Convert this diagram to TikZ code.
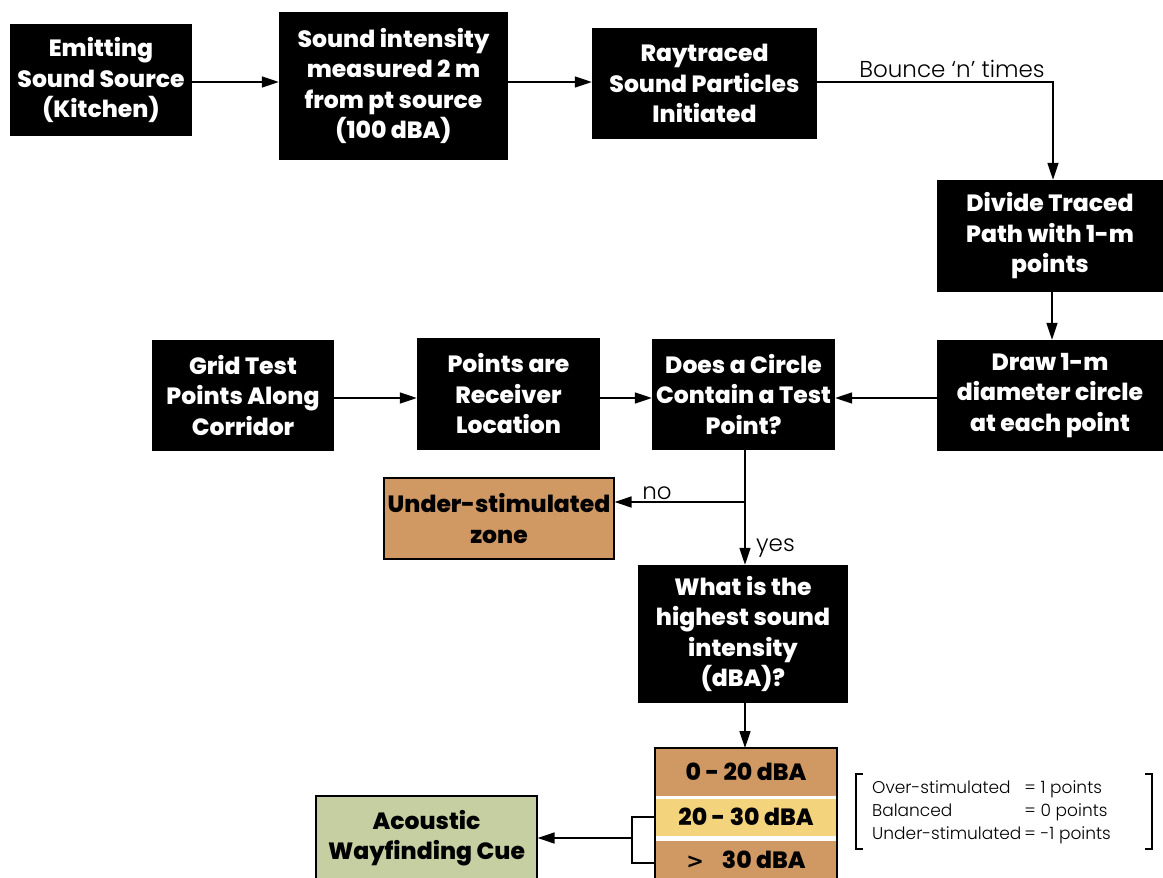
\documentclass[tikz,border=0pt]{standalone}
\usepackage{fontspec}
\setmainfont{Poppins}[BoldFont={Poppins ExtraBold}]
\newfontfamily\thinfont{Poppins Light}
\newfontfamily\glyphfont{DejaVu Sans}
\usetikzlibrary{arrows.meta,calc}
\definecolor{tanbox}{RGB}{208,153,100}
\definecolor{sandbox}{RGB}{243,211,124}
\definecolor{sagebox}{RGB}{197,207,161}
\tikzset{
  blk/.style={fill=black,text=white,font=\fontsize{23.5}{30.5}\selectfont\bfseries,
    align=center,inner sep=0pt},
  tanned/.style={fill=tanbox,draw=black,line width=1.2pt,text=black,
    font=\fontsize{23.5}{30.5}\selectfont\bfseries,align=center,inner sep=0pt},
  band/.style={text=black,font=\fontsize{23.5}{26}\selectfont\bfseries,
    align=center,inner sep=0pt,minimum width=180pt},
  flow/.style={line width=1.6pt,-{Triangle[length=17pt,width=11pt]}},
  wire/.style={line width=1.6pt},
  lbl/.style={font=\thinfont\fontsize{23}{26}\selectfont,text=black,inner sep=1pt},
}
\begin{document}
\begin{tikzpicture}[x=1pt,y=-1pt]
\useasboundingbox (0,0) rectangle (1163,878);

% top row
\node[blk,minimum width=182pt,minimum height=112pt] (emit) at (101,80)
  {Emitting\\Sound Source\\(Kitchen)};
\node[blk,minimum width=229pt,minimum height=148pt] (meas) at (393.5,86)
  {Sound intensity\\measured 2 m\\from pt source\\(100 dBA)};
\node[blk,minimum width=225pt,minimum height=111pt] (ray) at (704.5,83.5)
  {Raytraced\\Sound Particles\\Initiated};
\node[blk,minimum width=226pt,minimum height=112pt] (divide) at (1050,236)
  {Divide Traced\\Path with 1-m\\points};

% middle row
\node[blk,minimum width=226pt,minimum height=111pt] (circ) at (1050,395.5)
  {Draw 1-m\\diameter circle\\at each point};
\node[blk,minimum width=183pt,minimum height=111pt] (test) at (743.5,394.5)
  {Does a Circle\\Contain a Test\\Point?};
\node[blk,minimum width=183pt,minimum height=112pt] (recv) at (508.5,394)
  {Points are\\Receiver\\Location};
\node[blk,minimum width=182pt,minimum height=111pt] (grid) at (243,395.5)
  {Grid Test\\Points Along\\Corridor};

% lower part
\node[tanned,minimum width=230pt,minimum height=81pt] (under) at (499,518.5)
  {Under-stimulated\\zone};
\node[blk,minimum width=210pt,minimum height=138pt] (high) at (743,634)
  {What is the\\highest sound\\intensity\\(dBA)?};

% stacked intensity bands
\node[band,fill=tanbox,minimum height=47pt] (b1) at (746,772) {0 - 20 dBA};
\node[band,fill=sandbox,minimum height=37pt] (b2) at (746,817) {20 - 30 dBA};
\node[band,fill=tanbox,minimum height=38pt] (b3) at (746,860)
  {{\glyphfont\bfseries\fontsize{21}{26}\selectfont >}\hspace{18pt}30 dBA};
\draw[line width=1.4pt] (655,900) -- (655,748) -- (837,748) -- (837,900);
\coordinate (stackL2) at (655,817);
\coordinate (stackL3) at (655,863);

\node[fill=sagebox,draw=black,line width=1.2pt,text=black,
  font=\fontsize{23.5}{30.5}\selectfont\bfseries,align=center,inner sep=0pt,
  minimum width=221pt,minimum height=84pt] (cue) at (426.5,838)
  {Acoustic\\Wayfinding Cue};

% scoring legend
\node[anchor=north west,inner sep=0pt,font=\thinfont\fontsize{17}{23}\selectfont] (legend) at (872,777)
  {\begin{tabular}{@{}l@{\hspace{3pt}}l@{}}
   Over-stimulated & = 1 points\\
   Balanced & = 0 points\\
   Under-stimulated & = -1 points
   \end{tabular}};
\draw[line width=1.1pt] (863,774) -- (856,774) -- (856,849) -- (863,849);
\draw[line width=1.1pt] (1145,774) -- (1152,774) -- (1152,849) -- (1145,849);

% connectors
\draw[flow] (emit.east |- 0,82) -- (meas.west |- 0,82);
\draw[flow] (meas.east |- 0,82) -- (ray.west |- 0,82);
\draw[flow] (ray.east |- 0,82) -- (1053,82) -- (divide.north -| 1053,0);
\node[lbl,anchor=south] (bounce) at (952,79) {Bounce ‘n’ times};
\draw[flow] (divide.south -| 1052,0) -- (circ.north -| 1052,0);
\draw[flow] (circ.west |- 0,398) -- (test.east |- 0,398);
\draw[flow] (grid.east |- 0,398) -- (recv.west |- 0,398);
\draw[flow] (recv.east |- 0,398) -- (test.west |- 0,398);
\coordinate (split) at (745,502);
\draw[wire] (test.south -| split) -- (split);
\draw[flow] (split) -- (under.east |- split);
\draw[flow] (split) -- (high.north -| split);
\node[lbl,anchor=south] (no) at (657,501) {no};
\node[lbl,anchor=west] (yes) at (755,548) {yes};
\draw[flow] (high.south -| 745,0) -- (745,748);
\coordinate (join) at (632,838);
\draw[wire] (stackL2) -- (632,817) -- (632,863) -- (stackL3);
\draw[flow] (join) -- (cue.east |- join);
\end{tikzpicture}
\end{document}
